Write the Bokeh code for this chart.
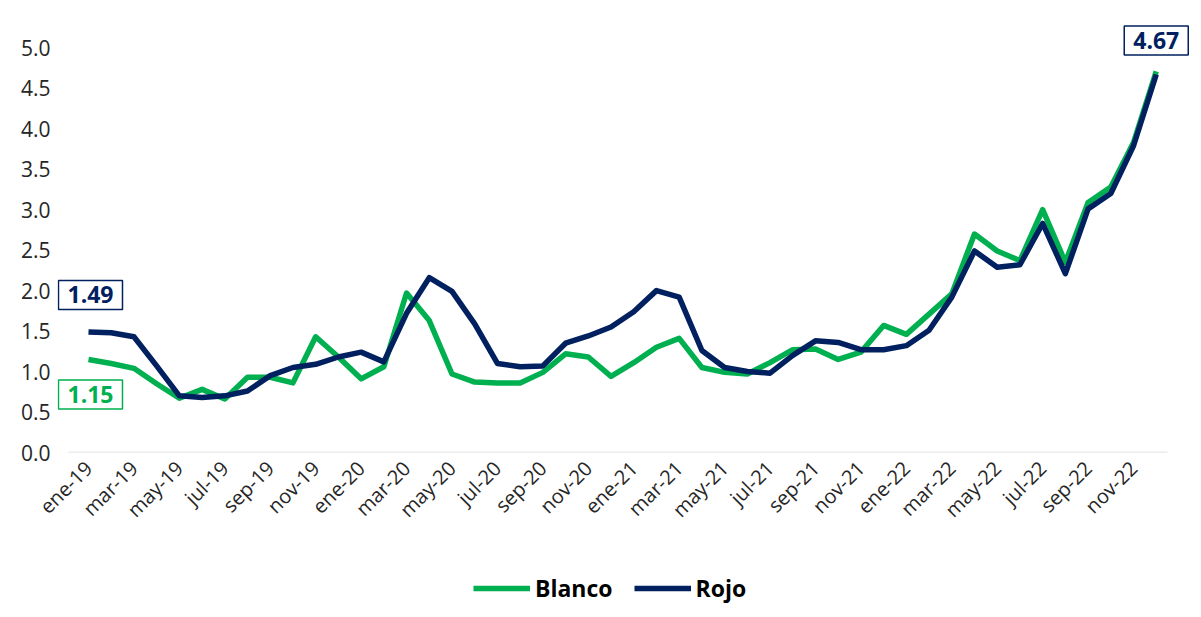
from bokeh.plotting import figure
from bokeh.layouts import column
from bokeh.models import (Range1d, FixedTicker, Legend, LegendItem, Label)
from bokeh.embed import file_html
from bokeh.resources import INLINE

# ---- data ----
month_names = ["ene", "feb", "mar", "abr", "may", "jun",
               "jul", "ago", "sep", "oct", "nov", "dic"]
years = ["19", "20", "21", "22"]
months = [f"{m}-{y}" for y in years for m in month_names]

blanco = [1.15, 1.10, 1.04, 0.85, 0.67, 0.78, 0.66, 0.93, 0.93, 0.86, 1.43, 1.18, 0.91,
          1.06, 1.97, 1.63, 0.97, 0.87, 0.86, 0.86, 0.99, 1.22, 1.18, 0.94, 1.11, 1.30,
          1.41, 1.05, 0.99, 0.97, 1.11, 1.27, 1.28, 1.15, 1.24, 1.57, 1.46, 1.71, 1.96,
          2.70, 2.49, 2.37, 3.00, 2.35, 3.09, 3.28, 3.83, 4.71]
rojo = [1.49, 1.48, 1.43, 1.07, 0.70, 0.68, 0.70, 0.76, 0.95, 1.05, 1.09, 1.18, 1.24,
        1.12, 1.72, 2.16, 1.99, 1.59, 1.10, 1.06, 1.07, 1.35, 1.44, 1.55, 1.74, 2.00,
        1.92, 1.26, 1.05, 1.00, 0.98, 1.20, 1.38, 1.36, 1.27, 1.27, 1.32, 1.51, 1.92,
        2.49, 2.29, 2.32, 2.83, 2.21, 3.01, 3.20, 3.79, 4.67]
series_names = ["Blanco", "Rojo"]
y_ticks = [0.0, 0.5, 1.0, 1.5, 2.0, 2.5, 3.0, 3.5, 4.0, 4.5, 5.0]

GREEN = "#00B050"
NAVY = "#002060"
FONT = "Open Sans"
AXIS_GREY = "#d9d9d9"
W = 1195

idx = list(range(len(months)))
x_base_start = -0.88
x_base_end = idx[-1] + 0.5

p = figure(width=W, frame_width=1136, frame_height=433,
           x_range=Range1d(-1.364, 48.64), y_range=Range1d(0, 5.35),
           output_backend="svg", toolbar_location=None,
           min_border_left=57, min_border_top=19, min_border_right=2,
           min_border_bottom=0, background_fill_color="white",
           border_fill_color="white", outline_line_color=None)

# baseline (0.0 line), only as wide as the category span
p.segment(x0=[x_base_start], y0=[0], x1=[x_base_end], y1=[0],
          line_color=AXIS_GREY, line_width=1.5)

p.line(idx, blanco, line_color=GREEN, line_width=5.5, line_join="round")
p.line(idx, rojo, line_color=NAVY, line_width=5.5, line_join="round")

# axes
p.xgrid.grid_line_color = None
p.ygrid.grid_line_color = None

p.xaxis.ticker = FixedTicker(ticks=idx[::2])
p.xaxis.major_label_overrides = {i: months[i] for i in idx[::2]}
p.xaxis.major_label_orientation = 0.785398
p.xaxis.major_label_text_font = FONT
p.xaxis.major_label_text_font_size = "20px"
p.xaxis.major_label_text_color = "#262626"
p.xaxis.axis_line_color = None
p.xaxis.major_tick_line_color = None
p.xaxis.minor_tick_line_color = None
p.xaxis.major_label_standoff = 6

p.yaxis.ticker = FixedTicker(ticks=y_ticks)
p.yaxis.major_label_overrides = {v: f"{v:.1f}" for v in y_ticks}
p.yaxis.major_label_text_font = FONT
p.yaxis.major_label_text_font_size = "21px"
p.yaxis.major_label_text_color = "#262626"
p.yaxis.axis_line_color = None
p.yaxis.major_tick_line_color = None
p.yaxis.minor_tick_line_color = None
p.yaxis.major_label_standoff = 1

# boxed value labels
def boxed(x, y, txt, color, xo, yo):
    return Label(x=x, y=y, x_offset=xo, y_offset=yo, text=txt,
                 text_align="center", text_baseline="middle",
                 text_font=FONT, text_font_style="bold", text_font_size="23px",
                 text_color=color, background_fill_color="white",
                 border_line_color=color, border_line_width=1.5,
                 padding=dict(left=9, right=9, top=6, bottom=6))

p.add_layout(boxed(0, rojo[0], f"{rojo[0]:.2f}", NAVY, 2, 37))
p.add_layout(boxed(0, blanco[0], f"{blanco[0]:.2f}", GREEN, 2, -35))
p.add_layout(boxed(47, rojo[-1], f"{rojo[-1]:.2f}", NAVY, 0, 34))

# legend strip (series drawn out of view; only the legend shows)
lg = figure(width=W, height=80, output_backend="svg", toolbar_location=None,
            x_axis_type=None, y_axis_type=None, min_border=0,
            x_range=Range1d(0, 47), y_range=Range1d(-20, -10),
            background_fill_color="white", border_fill_color="white",
            outline_line_color=None)
lg.xgrid.grid_line_color = None
lg.ygrid.grid_line_color = None
rb = lg.line(idx, blanco, line_color=GREEN, line_width=5.5)
rr = lg.line(idx, rojo, line_color=NAVY, line_width=5.5)
legend = Legend(items=[LegendItem(label=series_names[0], renderers=[rb]),
                       LegendItem(label=series_names[1], renderers=[rr])],
                orientation="horizontal", location=(416, 11),
                border_line_color=None, background_fill_alpha=0,
                label_text_font=FONT, label_text_font_style="bold",
                label_text_font_size="23px", label_text_color="#000000",
                glyph_width=57, glyph_height=20, label_standoff=5, spacing=21,
                padding=2, margin=0)
lg.add_layout(legend, "center")

layout = column(p, lg, spacing=0)
open("out.html", "w").write(file_html(layout, INLINE))
